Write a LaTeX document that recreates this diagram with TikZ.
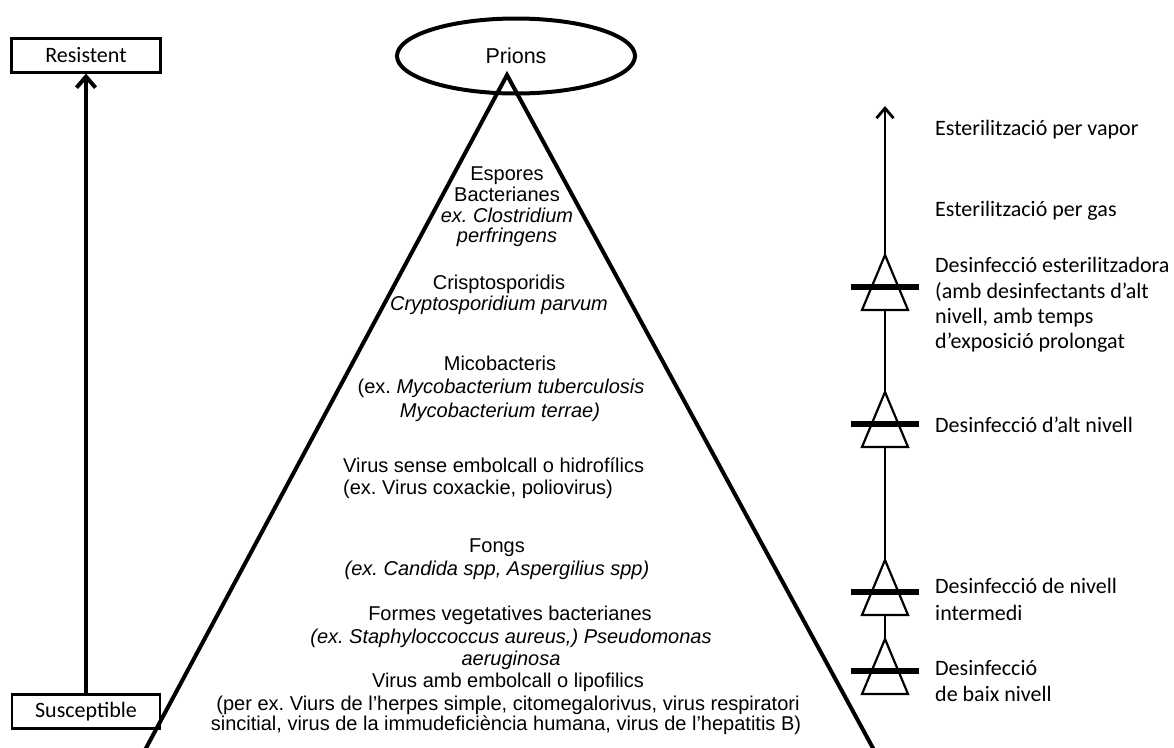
\documentclass[tikz,border=0pt]{standalone}
\usepackage{fontspec}
\newfontfamily\calibfont{Carlito}
\newfontfamily\arialfont{Liberation Sans}
\usetikzlibrary{arrows.meta,shapes.geometric}
\frenchspacing
\begin{document}
\begin{tikzpicture}[x=1pt,y=-1pt,
  cal/.style={font=\calibfont\fontsize{22}{26}\selectfont, inner sep=0pt, anchor=base west},
  ar/.style={font=\arialfont\fontsize{20}{22}\selectfont, inner sep=0pt, anchor=base},
  arl/.style={ar, anchor=base west},
  lbox/.style={draw, line width=2.2pt, minimum height=34pt, inner sep=0pt,
    font=\calibfont\fontsize{22}{26}\selectfont, fill=white},
  pyr/.style={line width=4pt, line join=miter},
  axisline/.style={line width=2.8pt},
  bigarrow/.style={line width=4pt, -{Straight Barb[length=11pt,width=19pt,line width=4pt]}},
  axisarrow/.style={axisline, -{Straight Barb[length=10pt,width=17pt,line width=2.8pt]}},
  dtri/.pic={
    \coordinate (-apex) at (0,0);
    \coordinate (-base) at (0,55);
    \draw[fill=white, line width=2.2pt, line join=miter] (0,0) -- (-23,55) -- (23,55) -- cycle;
    \draw[line width=5.5pt] (-34,32) -- (34,32);
  }]
\useasboundingbox (0,0) rectangle (1174,747);
\fill[white] (0,0) rectangle (1174,747);

% left scale
\node[lbox, minimum width=149pt] (res) at (86,55.5) {Resistent};
\node[lbox, minimum width=148pt] (sus) at (86,711.5) {Susceptible};
\draw[bigarrow] (sus.north) -- (res.south);

% pyramid
\coordinate (apex) at (507,75);
\coordinate (bl) at (145,750);
\coordinate (br) at (874,750);
\draw[pyr] (bl) -- (apex) -- (br);
\node[ellipse, draw, line width=4pt, minimum width=238pt, minimum height=75pt, inner sep=0pt,
  font=\arialfont\fontsize{21.5}{24}\selectfont] (prions) at (516,56) {Prions};

% pyramid texts
\node[ar] (g1a) at (507,180) {Espores};
\node[ar] (g1b) at (507,201) {Bacterianes};
\node[ar] (g1c) at (507,222) {\itshape ex. Clostridium};
\node[ar] (g1d) at (507,242) {\itshape perfringens};
\node[ar] (g2a) at (499,289) {Crisptosporidis};
\node[ar] (g2b) at (499,310) {\itshape Cryptosporidium parvum};
\node[ar] (g3a) at (500,370) {Micobacteris};
\node[ar] (g3b) at (501,393) {(ex. \textit{Mycobacterium tuberculosis}};
\node[ar] (g3c) at (500,417) {\itshape Mycobacterium terrae)};
\node[arl] (g4a) at (343,472) {Virus sense embolcall o hidrofílics};
\node[arl] (g4b) at (343,494) {(ex. Virus coxackie, poliovirus)};
\node[ar] (g5a) at (497,552) {Fongs};
\node[ar] (g5b) at (497,575) {\itshape (ex. Candida spp, Aspergilius spp)};
\node[ar] (g6a) at (510,620) {Formes vegetatives bacterianes};
\node[ar] (g6b) at (511,643) {\itshape (ex. Staphyloccoccus aureus,) Pseudomonas};
\node[ar] (g6c) at (511,665) {\itshape aeruginosa};
\node[ar] (g7a) at (508,687) {Virus amb embolcall o lipofilics};
\node[ar] (g7b) at (508,710) {(per ex. Viurs de l’herpes simple, citomegalorivus, virus respiratori};
\node[ar] (g7c) at (506,730) {sincitial, virus de la immudeficiència humana, virus de l’hepatitis B)};

% right scale
\coordinate (top) at (885,106);
\pic (t1) at (885,255) {dtri};
\pic (t2) at (885,392) {dtri};
\pic (t3) at (885,560) {dtri};
\pic (t4) at (885,639) {dtri};
\draw[axisline] (t4-apex) -- (t3-base);
\draw[axisline] (t3-apex) -- (t2-base);
\draw[axisline] (t2-apex) -- (t1-base);
\draw[axisarrow] (t1-apex) -- (top);

\node[cal] (r1) at (935,135) {Esterilització per vapor};
\node[cal] (r2) at (935,216) {Esterilització per gas};
\node[cal] (r3a) at (935,272) {Desinfecció esterilitzadora};
\node[cal] (r3b) at (935,298) {(amb desinfectants d’alt};
\node[cal] (r3c) at (935,323) {nivell, amb temps};
\node[cal] (r3d) at (935,348) {d’exposició prolongat};
\node[cal] (r4) at (935,432) {Desinfecció d’alt nivell};
\node[cal] (r5a) at (935,593) {Desinfecció de nivell};
\node[cal] (r5b) at (935,620) {intermedi};
\node[cal] (r6a) at (935,675) {Desinfecció};
\node[cal] (r6b) at (935,701) {de baix nivell};
\end{tikzpicture}
\end{document}
